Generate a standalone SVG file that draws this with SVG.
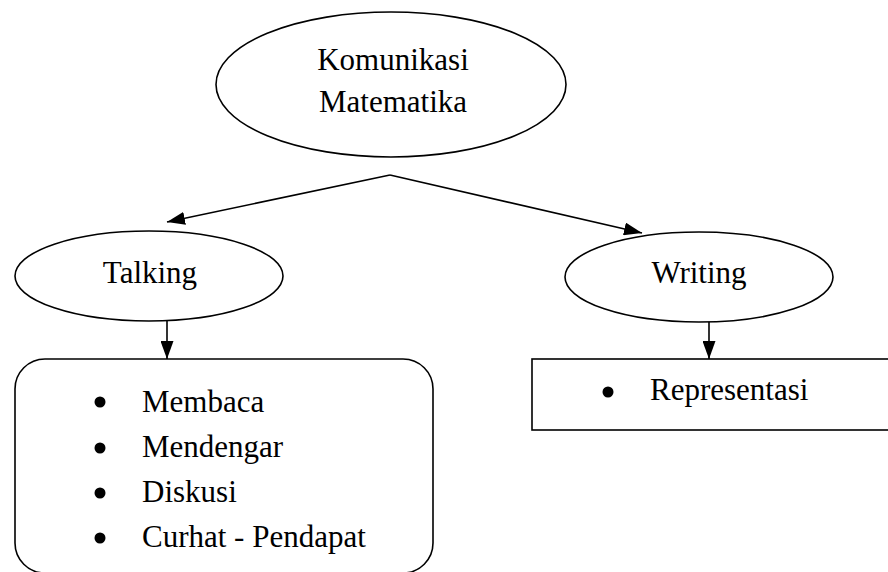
<svg xmlns="http://www.w3.org/2000/svg" width="888" height="572" viewBox="0 0 888 572">
<style>
.shape{fill:#fff;stroke:#000;stroke-width:1.6}
.t{font-family:"Liberation Serif","Times New Roman",serif;font-size:31px;fill:#000}
.c{text-anchor:middle}
.line{stroke:#000;stroke-width:1.6;fill:none}
</style>
<defs>
<marker id="ah" markerWidth="18" markerHeight="13" refX="18" refY="6.5" orient="auto" markerUnits="userSpaceOnUse">
<path d="M0,0 L18,6.5 L0,13 Z" fill="#000"/>
</marker>
</defs>
<rect width="888" height="572" fill="#fff"/>
<g id="connectors">
<line class="line" x1="390" y1="175" x2="167" y2="222" marker-end="url(#ah)"/>
<line class="line" x1="390" y1="175" x2="642" y2="233" marker-end="url(#ah)"/>
<line class="line" x1="167" y1="321" x2="167" y2="359" marker-end="url(#ah)"/>
<line class="line" x1="709" y1="322" x2="709" y2="359" marker-end="url(#ah)"/>
</g>
<g id="komunikasi">
<ellipse class="shape" cx="391" cy="84.5" rx="175" ry="72.5"/>
<text class="t c" x="393" y="70">Komunikasi</text>
<text class="t c" x="393" y="112">Matematika</text>
</g>
<g id="talking">
<ellipse class="shape" cx="149" cy="276" rx="134" ry="45"/>
<text class="t c" x="150" y="283">Talking</text>
</g>
<g id="writing">
<ellipse class="shape" cx="699" cy="277" rx="134" ry="45"/>
<text class="t c" x="699" y="283">Writing</text>
</g>
<g id="talking-list">
<rect class="shape" x="15" y="359" width="418" height="214" rx="30" ry="30"/>
<circle cx="100" cy="402" r="5.5"/>
<circle cx="100" cy="448" r="5.5"/>
<circle cx="100" cy="493" r="5.5"/>
<circle cx="100" cy="538" r="5.5"/>
<text class="t" x="142" y="412">Membaca</text>
<text class="t" x="142" y="457">Mendengar</text>
<text class="t" x="142" y="502">Diskusi</text>
<text class="t" x="142" y="547">Curhat - Pendapat</text>
</g>
<g id="writing-list">
<rect class="shape" x="532" y="359" width="370" height="71" stroke-width="2"/>
<circle cx="608" cy="392" r="5.5"/>
<text class="t" x="650" y="400">Representasi</text>
</g>
</svg>
